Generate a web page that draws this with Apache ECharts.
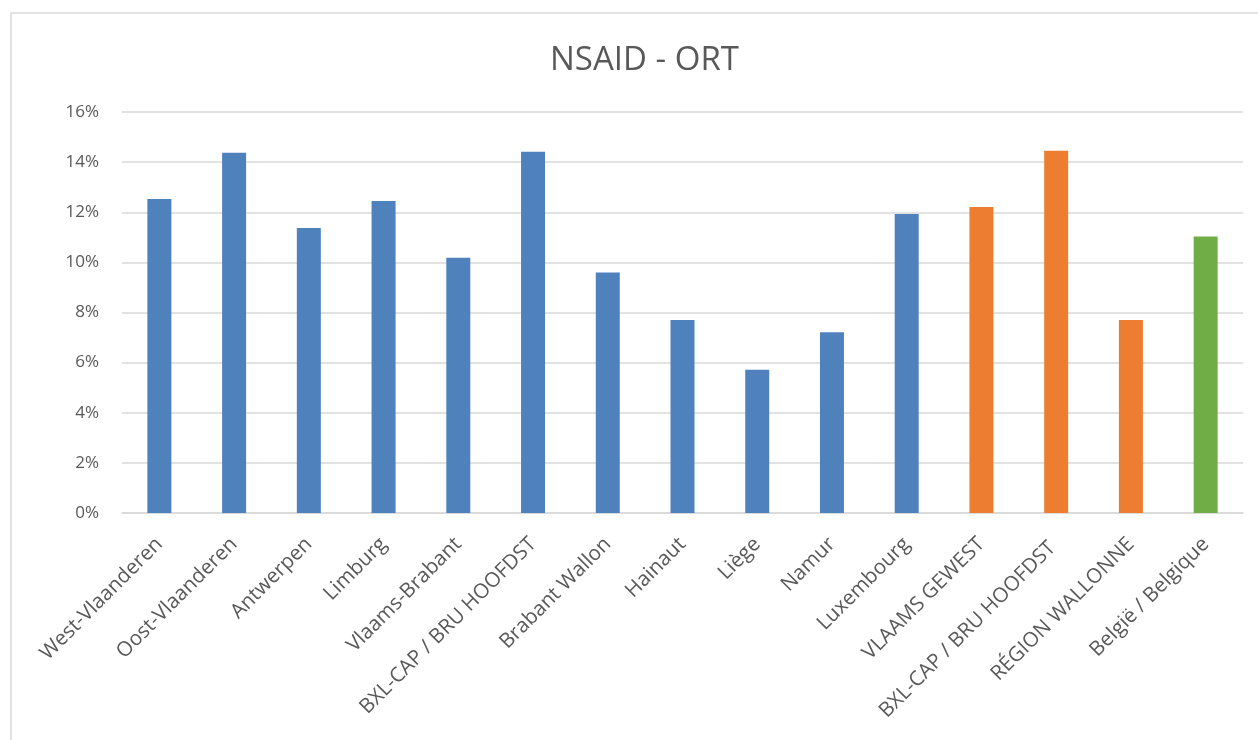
<!DOCTYPE html>
<html>
<head>
<meta charset="utf-8">
<script src="https://cdn.jsdelivr.net/npm/echarts@6/dist/echarts.min.js"></script>
<style>html,body{margin:0;padding:0;background:#fff}#c{width:1258px;height:740px}</style>
</head>
<body>
<div id="c"></div>
<script>
const categories = ["West-Vlaanderen","Oost-Vlaanderen","Antwerpen","Limburg","Vlaams-Brabant","BXL-CAP / BRU HOOFDST","Brabant Wallon","Hainaut","Liège","Namur","Luxembourg","VLAAMS GEWEST","BXL-CAP / BRU HOOFDST ","RÉGION WALLONNE","België / Belgique"];
const values = [12.53, 14.37, 11.37, 12.45, 10.18, 14.41, 9.60, 7.70, 5.72, 7.21, 11.93, 12.21, 14.45, 7.70, 11.03];
const groups = ["prov","prov","prov","prov","prov","prov","prov","prov","prov","prov","prov","region","region","region","country"];
const yTicks = [0, 2, 4, 6, 8, 10, 12, 14, 16];
const groupColors = {prov: "#4F81BD", region: "#ED7D31", country: "#70AD47"};

const chart = echarts.init(document.getElementById('c'));
chart.setOption({
  animation: false,
  textStyle: {fontFamily: "Open Sans"},
  graphic: [{type: 'rect', shape: {x: 11, y: 13, width: 1300, height: 800}, style: {fill: 'none', stroke: '#d9d9d9', lineWidth: 1.5}, silent: true}],
  title: {text: "NSAID - ORT", left: 545, top: 39, textStyle: {fontFamily: "Open Sans", fontWeight: 'normal', fontSize: 33, color: '#595959'}},
  grid: {left: 122, right: 15, top: 112, bottom: 227},
  xAxis: {
    type: 'category', data: categories,
    axisLine: {lineStyle: {color: '#d9d9d9', width: 1.5}},
    axisTick: {show: false},
    axisLabel: {rotate: 45, interval: 0, color: '#595959', fontSize: 20.5, margin: 28}
  },
  yAxis: {
    type: 'value', min: yTicks[0], max: yTicks[yTicks.length-1], interval: 2,
    axisLine: {show: false}, axisTick: {show: false},
    splitLine: {lineStyle: {color: '#d9d9d9', width: 1.5}},
    axisLabel: {formatter: v => v + '%', color: '#595959', fontSize: 17, margin: 23}
  },
  series: [{
    type: 'bar', barWidth: 24,
    data: values.map((v, i) => ({value: v, itemStyle: {color: groupColors[groups[i]]}}))
  }]
});
</script>
</body>
</html>
